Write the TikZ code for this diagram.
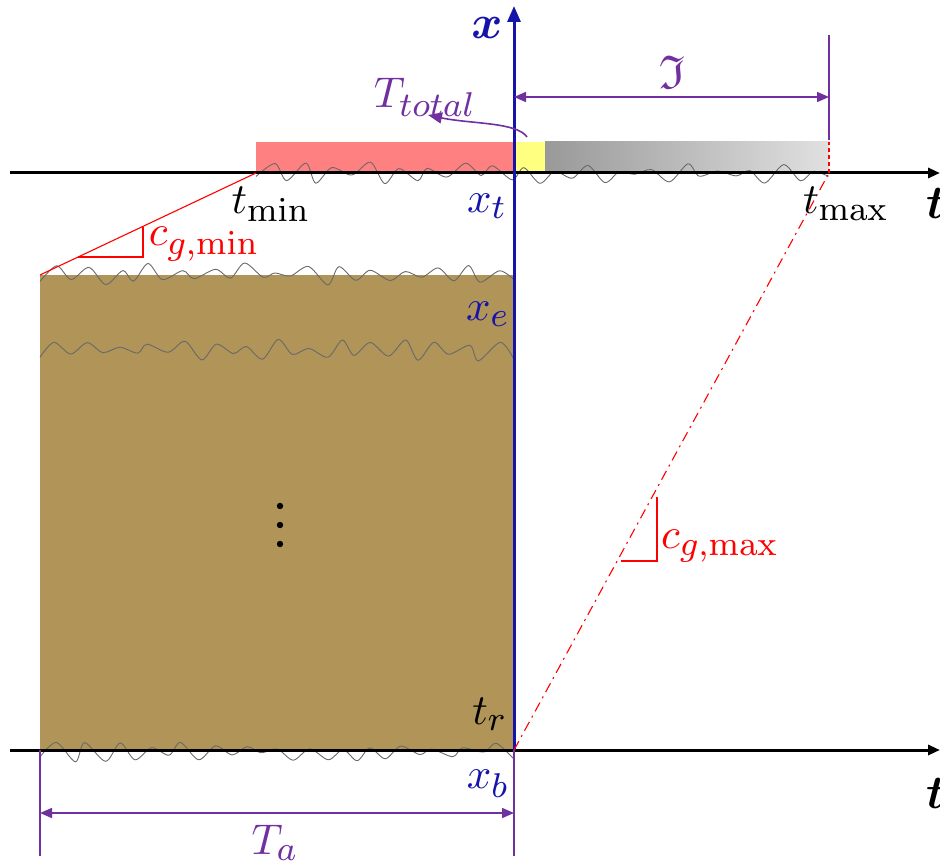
\documentclass[tikz,border=0pt]{standalone}
\usepackage{amsmath,amssymb}
\DeclareMathSizes{10}{10}{8}{6}
\usetikzlibrary{arrows.meta}
\definecolor{axblue}{RGB}{20,20,170}
\definecolor{purp}{RGB}{112,48,160}
\definecolor{soil}{RGB}{176,148,88}
\definecolor{redbar}{RGB}{255,128,128}
\definecolor{yelbar}{RGB}{255,255,128}
\definecolor{wavegray}{RGB}{105,105,105}
\definecolor{redline}{RGB}{255,0,0}
\begin{document}
\begin{tikzpicture}[x=0.5pt,y=-0.5pt,
  lab/.style={inner sep=0pt, scale=2.15},
  axisline/.style={line width=1.5pt, -{Triangle[length=6pt,width=5pt]}},
  dim/.style={purp, line width=0.8pt},
  dimarrow/.style={dim, {Triangle[length=6pt,width=5pt]}-{Triangle[length=6pt,width=5pt]}},
  wavy/.style={wavegray, line width=0.45pt},
  thinred/.style={redline, line width=0.55pt}]
\useasboundingbox (0,0) rectangle (940,866);

% fills
\fill[soil] (40,275) rectangle (514,750);
\fill[redbar] (256,142) rectangle (514,173);
\fill[yelbar] (514,142) rectangle (545,173);
\shade[left color=black!40, right color=black!12] (545,142) rectangle (829,173);

% wavy profiles
\pgfmathsetseed{4711}
\draw[wavy] plot[domain=0:36, samples=37, smooth] ({256+15.9*\x+(\x>0)*(\x<36)*4*rand}, {173 + (1+10*rnd)*cos(180*\x)});
\draw[wavy] plot[domain=0:30, samples=31, smooth] ({40+15.8*\x+(\x>0)*(\x<30)*4*rand}, {274 + (1+10*rnd)*cos(180*\x)});
\draw[wavy] plot[domain=0:30, samples=31, smooth] ({40+15.8*\x+(\x>0)*(\x<30)*4*rand}, {350 + (1+10*rnd)*cos(180*\x)});
\draw[wavy] plot[domain=0:30, samples=31, smooth] ({40+15.8*\x+(\x>0)*(\x<30)*4*rand}, {751 + (1+10*rnd)*cos(180*\x)});

% coordinates
\coordinate (tTopL) at (10,173);
\coordinate (tTopR) at (940,173);
\coordinate (tBotL) at (10,750);
\coordinate (tBotR) at (940,750);
\coordinate (xBot) at (514,750);
\coordinate (xTop) at (514,6);
\coordinate (tmin) at (256,173);
\coordinate (soilTL) at (40,275);
\coordinate (tmaxpt) at (829,173);
\coordinate (tmaxTop) at (829,142);

% axes
\draw[axisline] (tTopL) -- (tTopR);
\draw[axisline] (tBotL) -- (tBotR);
\draw[axisline, axblue, -{Triangle[length=8pt,width=6.5pt]}] (xBot) -- (xTop);

% gradient lines
\draw[thinred] (tmin) -- (soilTL);
\draw[thinred] (78,257) -- (143,257) -- (143,227);
\draw[thinred, dash pattern=on 5pt off 2.5pt on 1pt off 2.5pt] (xBot) -- (tmaxpt);
\draw[thinred, dash pattern=on 2pt off 1.5pt] (tmaxpt) -- (tmaxTop);
\draw[thinred] (621,561) -- (657,561) -- (657,497);

% dimensions
\coordinate (iR) at (829,97);
\coordinate (iL) at (514,97);
\draw[dim] (829,35) -- (829,140);
\draw[dimarrow] (iL) -- (iR);
\draw[dim] (40,750) -- (40,856);
\draw[dim] (514,750) -- (514,856);
\coordinate (taL) at (40,813);
\coordinate (taR) at (514,813);
\draw[dimarrow] (taL) -- (taR);

% T_total curved arrow
\coordinate (ttS) at (527,137);
\coordinate (ttE) at (428,115);
\draw[dim, -{Triangle[length=7pt,width=5.5pt]}] (ttS) .. controls (517,122) and (470,124) .. (ttE);

% dots
\fill (280,506) circle (1.6pt);
\fill (280,525) circle (1.6pt);
\fill (280,544) circle (1.6pt);

% labels
\node[lab, text=axblue, scale=1.1] (xlab) at (487,28) {$\boldsymbol{x}$};
\node[lab, scale=1.1] (tlab1) at (936,203) {$\boldsymbol{t}$};
\node[lab, scale=1.1] (tlab2) at (936,793) {$\boldsymbol{t}$};
\node[lab, text=axblue] (xt) at (487,206) {$x_t$};
\node[lab, text=axblue] (xe) at (488,314) {$x_e$};
\node[lab] (tr) at (490,714) {$t_r$};
\node[lab, text=axblue] (xb) at (488,784) {$x_b$};
\node[lab] (tminlab) at (271,204) {$t_{\min}$};
\node[lab] (tmaxlab) at (846,204) {$t_{\max}$};
\node[lab, text=redline] (cgmin) at (204,244) {$c_{g,\min}$};
\node[lab, text=redline] (cgmax) at (720,546) {$c_{g,\max}$};
\node[lab, text=purp] (ttot) at (425,97) {$T_{total}$};
\node[lab, text=purp, scale=1.1] (frak) at (672,72) {$\mathfrak{I}$};
\node[lab, text=purp] (ta) at (275,843) {$T_a$};
\end{tikzpicture}
\end{document}
